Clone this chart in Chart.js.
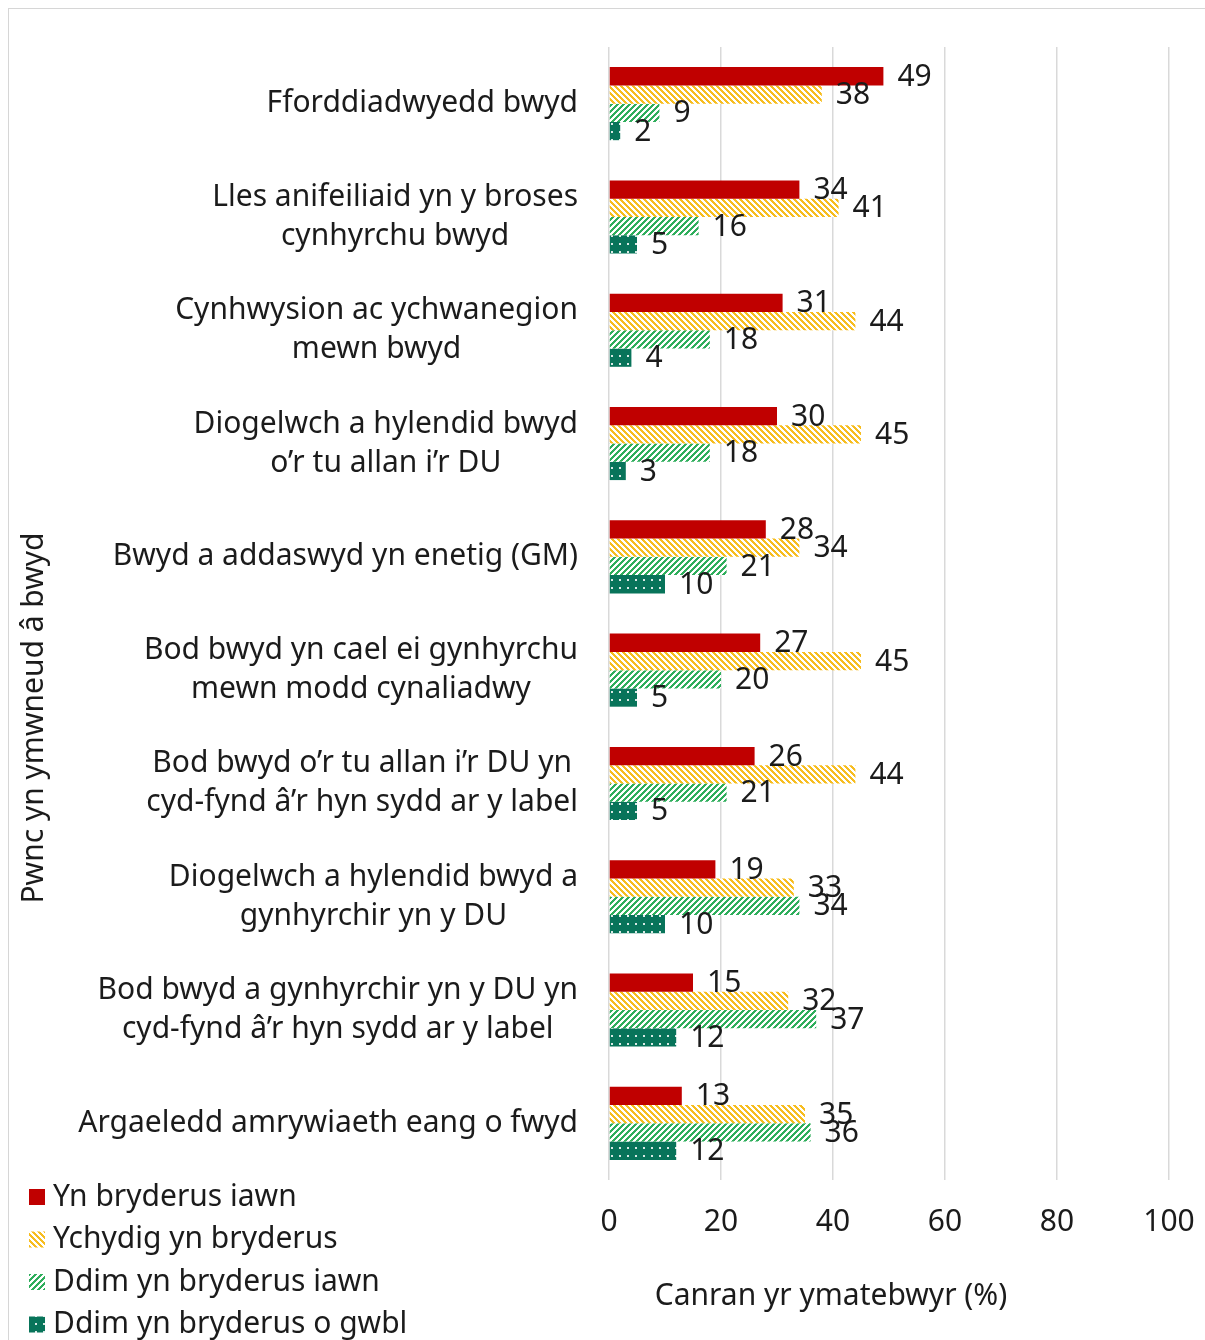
<!DOCTYPE html>
<html>
<head>
<meta charset="utf-8">
<script src="https://cdn.jsdelivr.net/npm/chart.js@4.4.1/dist/chart.umd.min.js"></script>
<style>
  html, body { margin: 0; padding: 0; background: #fff; overflow: hidden; }
  #frame { position: absolute; left: 8px; top: 8px; width: 1300px; height: 1400px; border: 1px solid #d6d6d6; }
  #wrap { position: absolute; left: 0; top: 0; width: 1205px; height: 1340px; }
</style>
</head>
<body>
<div id="frame"></div>
<div id="wrap"><canvas id="chart" width="1205" height="1340"></canvas></div>
<script>
// ---- data ----
const categories = [
  ['Fforddiadwyedd bwyd'],
  ['Lles anifeiliaid yn y broses', 'cynhyrchu bwyd'],
  ['Cynhwysion ac ychwanegion', 'mewn bwyd'],
  ['Diogelwch a hylendid bwyd', 'o\u2019r tu allan i\u2019r DU'],
  ['Bwyd a addaswyd yn enetig (GM)'],
  ['Bod bwyd yn cael ei gynhyrchu', 'mewn modd cynaliadwy'],
  ['Bod bwyd o\u2019r tu allan i\u2019r DU yn', 'cyd-fynd \u00e2\u2019r hyn sydd ar y label'],
  ['Diogelwch a hylendid bwyd a', 'gynhyrchir yn y DU'],
  ['Bod bwyd a gynhyrchir yn y DU yn', 'cyd-fynd \u00e2\u2019r hyn sydd ar y label'],
  ['Argaeledd amrywiaeth eang o fwyd']
];
const seriesNames = ['Yn bryderus iawn', 'Ychydig yn bryderus', 'Ddim yn bryderus iawn', 'Ddim yn bryderus o gwbl'];
const veryWorried     = [49, 34, 31, 30, 28, 27, 26, 19, 15, 13];
const slightlyWorried = [38, 41, 44, 45, 34, 45, 44, 33, 32, 35];
const notVeryWorried  = [9, 16, 18, 18, 21, 20, 21, 34, 37, 36];
const notAtAllWorried = [2, 5, 4, 3, 10, 5, 5, 10, 12, 12];
const xTicks = [0, 20, 40, 60, 80, 100];

const xTitle = 'Canran yr ymatebwyr (%)';
const yTitle = 'Pwnc yn ymwneud \u00e2 bwyd';

const FONT = '"Noto Sans", "Open Sans", sans-serif';
const TEXT = '#1b1b1b';
const FS = 30;

// ---- fills ----
function stripes(color, size, width, forward) {
  const c = document.createElement('canvas');
  c.width = size; c.height = size;
  const g = c.getContext('2d');
  g.fillStyle = '#fff';
  g.fillRect(0, 0, size, size);
  g.fillStyle = color;
  for (let y = 0; y < size; y++) {
    for (let x = 0; x < size; x++) {
      const k = forward ? (x + y) % size : ((x - y) % size + size) % size;
      if (k < width) g.fillRect(x, y, 1, 1);
    }
  }
  return g.createPattern(c, 'repeat');
}

function dots(color, size) {
  const c = document.createElement('canvas');
  c.width = size; c.height = size;
  const g = c.getContext('2d');
  g.fillStyle = color;
  g.fillRect(0, 0, size, size);
  g.fillStyle = 'rgba(255,255,255,0.85)';
  g.fillRect(3, 3, 2, 2);
  return g.createPattern(c, 'repeat');
}

const fills = [
  '#c00000',
  stripes('#f7bd1f', 6, 3, false),
  stripes('#2fae5c', 6, 3, true),
  dots('#08745a', 8)
];

// ---- extras drawn on top ----
const extras = {
  id: 'extras',
  afterDatasetsDraw(chart) {
    const ctx = chart.ctx;
    const area = chart.chartArea;
    ctx.save();
    ctx.font = FS + 'px ' + FONT;
    ctx.fillStyle = TEXT;
    ctx.textBaseline = 'middle';

    // value labels
    ctx.textAlign = 'left';
    chart.data.datasets.forEach((ds, i) => {
      chart.getDatasetMeta(i).data.forEach((bar, j) => {
        ctx.fillText(String(ds.data[j]), bar.x + 14, bar.y + 1);
      });
    });

    // category labels: block right aligned, lines centred
    const yScale = chart.scales.y;
    ctx.textAlign = 'center';
    categories.forEach((lines, j) => {
      const cy = yScale.getPixelForValue(j);
      const w = Math.max(...lines.map(l => ctx.measureText(l).width));
      const cx = area.left - 31 - w / 2;
      lines.forEach((l, k) => {
        ctx.fillText(l, cx, cy + (k - (lines.length - 1) / 2) * 39);
      });
    });

    // axis titles
    ctx.fillText(xTitle, 831, 1296);
    ctx.save();
    ctx.translate(34, 718);
    ctx.rotate(-Math.PI / 2);
    ctx.fillText(yTitle, 0, 0);
    ctx.restore();

    // legend
    ctx.textAlign = 'left';
    seriesNames.forEach((name, i) => {
      const y = 1197 + i * 42.5;
      ctx.fillStyle = fills[i];
      ctx.fillRect(29, y - 8, 16, 16);
      ctx.fillStyle = TEXT;
      ctx.fillText(name, 53, y);
    });
    ctx.restore();
  }
};

const seriesData = [veryWorried, slightlyWorried, notVeryWorried, notAtAllWorried];

new Chart(document.getElementById('chart'), {
  type: 'bar',
  data: {
    labels: categories,
    datasets: seriesData.map((d, i) => ({
      label: seriesNames[i],
      data: d,
      backgroundColor: fills[i],
      borderWidth: 0,
      categoryPercentage: 0.645,
      barPercentage: 1.0
    }))
  },
  options: {
    indexAxis: 'y',
    responsive: false,
    animation: false,
    layout: { padding: { top: 47, right: 36, left: 0, bottom: 0 } },
    plugins: {
      legend: { display: false },
      tooltip: { enabled: false },
      title: { display: false }
    },
    scales: {
      x: {
        min: 0,
        max: 100,
        afterBuildTicks(scale) { scale.ticks = xTicks.map(v => ({ value: v })); },
        afterFit(scale) {
          scale.height = 1340 - 1180;
          scale.paddingRight = 0;
          scale.paddingLeft = 0;
        },
        grid: { color: '#d9d9d9', lineWidth: 1.5, drawTicks: false },
        border: { display: false },
        ticks: { padding: 24, color: TEXT, font: { family: FONT, size: FS } }
      },
      y: {
        afterFit(scale) { scale.width = 609; },
        grid: { display: false },
        border: { display: false },
        ticks: { display: false }
      }
    }
  },
  plugins: [extras]
});
</script>
</body>
</html>
